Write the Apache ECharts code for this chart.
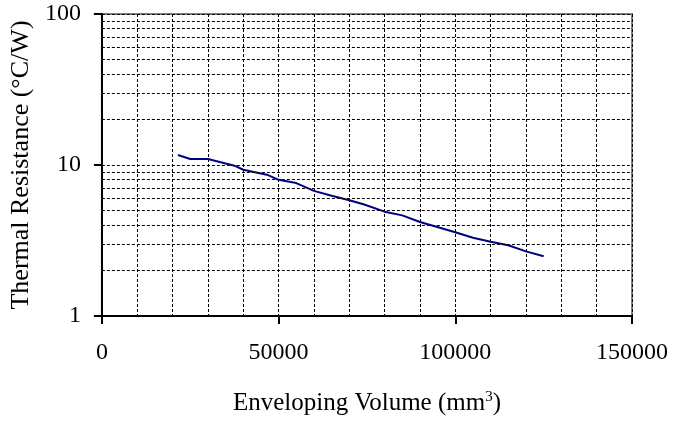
<!DOCTYPE html>
<html>
<head>
<meta charset="utf-8">
<script src="https://cdn.jsdelivr.net/npm/echarts@6/dist/echarts.min.js"></script>
<style>
  html, body { margin: 0; padding: 0; background: #fff; }
  #app { width: 685px; height: 421px; }
</style>
</head>
<body>
<div id="app"></div>
<script>
const volume = [21500, 25000, 30000, 37500, 40000, 47000, 50000, 55000, 60000, 65000, 70000,
  74000, 80000, 85000, 90000, 100000, 105000, 110000, 115000, 120000, 125000]
const resistance = [11.66, 10.96, 10.96, 9.9, 9.3, 8.58, 7.98, 7.59, 6.74, 6.25, 5.84,
  5.5, 4.91, 4.64, 4.19, 3.59, 3.3, 3.1, 2.94, 2.68, 2.49]
// log axis minor grid values (ECharts spaces log minor ticks evenly, so draw them as lines)
const yMinorGrid = [2, 3, 4, 5, 6, 7, 8, 9, 20, 30, 40, 50, 60, 70, 80, 90]

const serif = '"Liberation Serif", "Times New Roman", serif'
const dash = { color: '#000', width: 1, type: [3, 2] }

const echart = echarts.init(document.getElementById('app'))

echart.setOption({
  animation: false,
  grid: {
    left: 101,
    right: 53,
    top: 14,
    bottom: 105,
    show: true,
    borderColor: '#808080',
    borderWidth: 2
  },
  xAxis: {
    type: 'value',
    min: 0,
    max: 150000,
    interval: 50000,
    name: 'Enveloping Volume (mm{sup|3})',
    nameLocation: 'middle',
    nameGap: 74,
    nameTextStyle: {
      fontFamily: serif,
      fontSize: 25,
      color: '#000',
      rich: {
        sup: { fontFamily: serif, fontSize: 15, color: '#000', verticalAlign: 'bottom', padding: [0, 0, 12, 0] }
      }
    },
    axisLine: { lineStyle: { color: '#000', width: 2 } },
    axisTick: { length: 8, lineStyle: { color: '#000', width: 2 } },
    axisLabel: { fontFamily: serif, fontSize: 24, color: '#000', margin: 25, formatter: v => String(v) },
    splitLine: { lineStyle: dash },
    minorTick: { show: false, splitNumber: 5 },
    minorSplitLine: { show: true, lineStyle: dash }
  },
  yAxis: {
    type: 'log',
    logBase: 10,
    min: 1,
    max: 100,
    name: 'Thermal Resistance (°C/W)',
    nameLocation: 'middle',
    nameGap: 66,
    nameTextStyle: { fontFamily: serif, fontSize: 26, color: '#000', padding: [0, 0, 0, 0] },
    axisLine: { show: true, lineStyle: { color: '#000', width: 2 } },
    axisTick: { length: 8, lineStyle: { color: '#000', width: 2 } },
    axisLabel: { fontFamily: serif, fontSize: 24, color: '#000', margin: 21 },
    splitLine: { lineStyle: dash }
  },
  series: [
    {
      type: 'line',
      z: 1,
      data: [],
      silent: true,
      markLine: {
        silent: true,
        symbol: 'none',
        label: { show: false },
        lineStyle: dash,
        emphasis: { disabled: true },
        data: yMinorGrid.map(v => ({ yAxis: v }))
      }
    },
    {
      type: 'line',
      z: 3,
      data: volume.map((v, i) => [v, resistance[i]]),
      showSymbol: false,
      lineStyle: { color: '#000080', width: 2 }
    }
  ]
})
</script>
</body>
</html>
